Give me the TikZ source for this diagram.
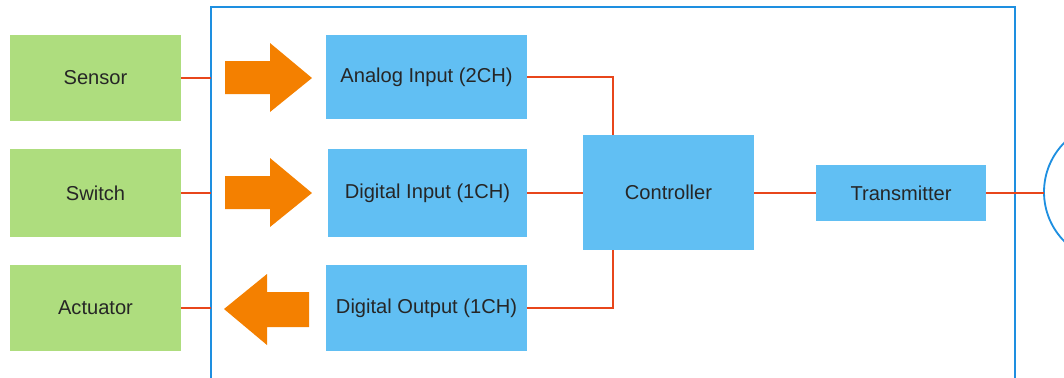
\documentclass[tikz,border=0pt]{standalone}
\usepackage{fontspec}
\setmainfont{Liberation Sans}
\usepackage{tikz}
\definecolor{boxgreen}{HTML}{AEDD7E}
\definecolor{boxblue}{HTML}{61BFF3}
\definecolor{framblue}{HTML}{1E8FE0}
\definecolor{wire}{HTML}{E8461B}
\definecolor{fatarrow}{HTML}{F48000}
\definecolor{txt}{HTML}{262626}
\tikzset{
    dev/.style={shape=rectangle, fill=boxgreen, text=txt, outer sep=0pt, font=\fontsize{14.3}{16}\selectfont},
    mod/.style={shape=rectangle, fill=boxblue, text=txt, outer sep=0pt, font=\fontsize{14.3}{16}\selectfont},
    link/.style={draw=wire, line width=1.3pt}}

\begin{document}
\begin{tikzpicture}[x=0.025cm, y=-0.025cm]

            \useasboundingbox (0,0) rectangle (1064,377);
            \begin{scope}
            \clip (0,0) rectangle (1064,377);
            \draw[framblue, line width=1.3pt] (211,390) -- (211,7) -- (1015,7) -- (1015,390);
            \draw[framblue, line width=1.3pt] (1114,192) circle[radius=70];
            \end{scope}

            \node[dev, minimum width=4.275cm, minimum height=2.15cm] (sensor) at (95.5,78) {Sensor};
            \node[dev, minimum width=4.275cm, minimum height=2.2cm] (switch) at (95.5,193) {Switch};
            \node[dev, minimum width=4.275cm, minimum height=2.15cm] (actuator) at (95.5,308) {Actuator};

            \node[mod, minimum width=5.025cm, minimum height=2.1cm] (ain) at (426.5,77) {Analog Input (2CH)};
            \node[mod, minimum width=4.975cm, minimum height=2.2cm] (din) at (427.5,193) {Digital Input (1CH)};
            \node[mod, minimum width=5.025cm, minimum height=2.15cm] (dout) at (426.5,308) {Digital Output (1CH)};
            \node[mod, minimum width=4.275cm, minimum height=2.875cm] (ctrl) at (668.5,192.5) {Controller};
            \node[mod, minimum width=4.25cm, minimum height=1.4cm] (tx) at (901,193) {Transmitter};

            \coordinate (sensorin) at (211,78);
            \coordinate (switchin) at (211,193);
            \coordinate (actuatorin) at (211,308);
            \coordinate (antenna) at (1044,193);

            % wires
            \draw[link] (sensor.east) -- (sensorin);
            \draw[link] (switch.east) -- (switchin);
            \draw[link] (actuator.east) -- (actuatorin);
            \draw[link] (ain.east) -| (ctrl.north -| 613,0);
            \draw[link] (din.east) -- (ctrl.west |- din.east);
            \draw[link] (dout.east) -| (ctrl.south -| 613,0);
            \draw[link] (ctrl.east |- tx.west) -- (tx.west);
            \draw[link] (tx.east) -- (antenna);

            % fat arrows
            \fill[fatarrow] (225,61) -- (270,61) -- (270,43) -- (312,78) -- (270,112) -- (270,94) -- (225,94) -- cycle;
            \fill[fatarrow] (225,176) -- (270,176) -- (270,158) -- (312,193) -- (270,227) -- (270,209) -- (225,209) -- cycle;
            \fill[fatarrow] (309,292) -- (267,292) -- (267,274) -- (224,309) -- (267,345) -- (267,327) -- (309,327) -- cycle;

        \end{tikzpicture}
\end{document}
